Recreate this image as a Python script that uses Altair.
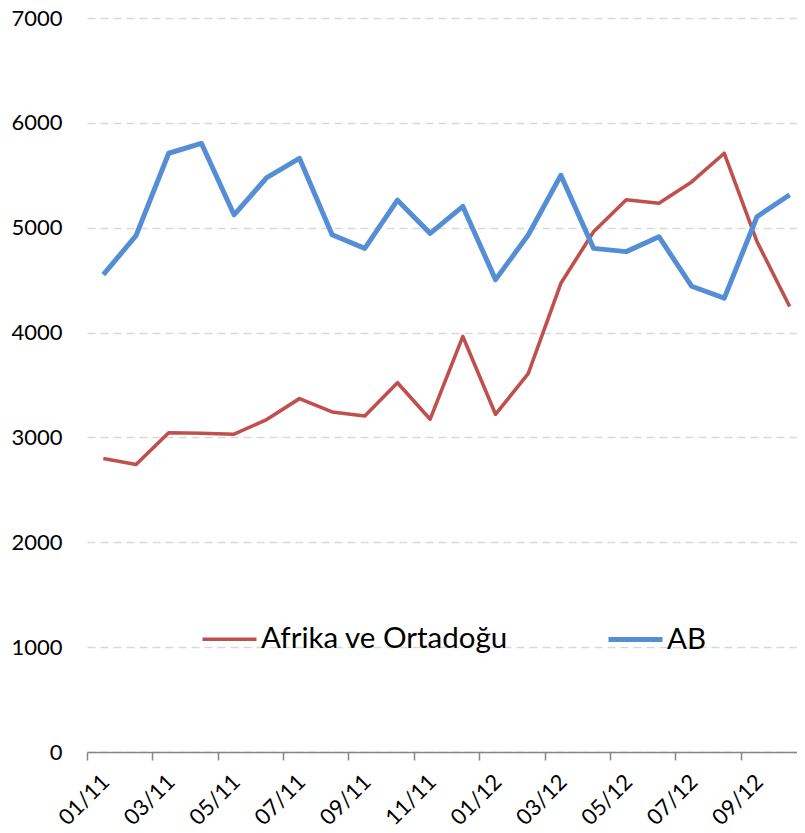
import altair as alt
import pandas as pd

months = ["01/11", "02/11", "03/11", "04/11", "05/11", "06/11", "07/11", "08/11",
          "09/11", "10/11", "11/11", "12/11", "01/12", "02/12", "03/12", "04/12",
          "05/12", "06/12", "07/12", "08/12", "09/12", "10/12"]
afrika = [2799, 2742, 3044, 3040, 3031, 3170, 3370, 3243, 3205, 3522, 3174,
          3963, 3221, 3608, 4470, 4962, 5266, 5234, 5437, 5710, 4867, 4249]
ab = [4553, 4924, 5710, 5805, 5123, 5478, 5662, 4933, 4803, 5263, 4946,
      5203, 4505, 4930, 5500, 4803, 4772, 4914, 4442, 4328, 5105, 5314]
series = ["Afrika ve Ortadoğu", "AB"]
colors = ["#C0504D", "#558ED5"]
widths = [3.6, 5]
y_ticks = [0, 1000, 2000, 3000, 4000, 5000, 6000, 7000]

rows = []
for name, vals in zip(series, [afrika, ab]):
    for m, v in zip(months, vals):
        rows.append({"month": m, "value": v, "series": name})
df = pd.DataFrame(rows)

font = "Lato"
W = 710          # drawn plot width
R = 719          # x scale range (axis runs to the page edge)
band = R / len(months)

legend = alt.Legend(
    title=None, orient="none", legendX=113, legendY=592, direction="horizontal",
    columns=2, columnPadding=90, labelFontSize=29.5, labelFont=font,
    labelColor="#000000", symbolType="stroke", symbolSize=2916, labelOffset=2,
    labelLimit=600, padding=0,
)

chart = alt.Chart(df).mark_line(strokeCap="butt", strokeJoin="round").encode(
    x=alt.X("month:O", sort=months,
            scale=alt.Scale(paddingInner=0, paddingOuter=0, range=[0, R]),
            axis=alt.Axis(title=None, values=months[::2],
                          tickOffset=-band / 2, labelOffset=band / 2 + 2,
                          labelAngle=-45, labelAlign="right",
                          labelBaseline="middle", labelPadding=18, tickSize=8,
                          tickColor="#868686", tickWidth=1.5,
                          domainColor="#868686", domainWidth=1.5,
                          labelFontSize=22, labelFont=font, labelColor="#000000",
                          labelOverlap=False, labelBound=False, grid=False)),
    y=alt.Y("value:Q", scale=alt.Scale(domain=[0, 7000], nice=False),
            axis=alt.Axis(title=None, values=y_ticks, format="d", domain=False,
                          ticks=False, labelPadding=25, labelFontSize=22,
                          labelFont=font, labelColor="#000000", grid=True,
                          gridColor="#D9D9D9", gridDash=[8, 5], gridWidth=1.3)),
    color=alt.Color("series:N", sort=series,
                    scale=alt.Scale(domain=series, range=colors), legend=legend),
    strokeWidth=alt.StrokeWidth("series:N", sort=series,
                                scale=alt.Scale(domain=series, range=widths),
                                legend=legend),
).properties(
    width=W, height=734,
    autosize=alt.AutoSizeParams(type="none"),
    padding={"left": 79, "top": 10, "right": 0, "bottom": 78},
).configure_view(stroke=None)

chart.save("out.html", embed_options={"renderer": "svg", "actions": False})
